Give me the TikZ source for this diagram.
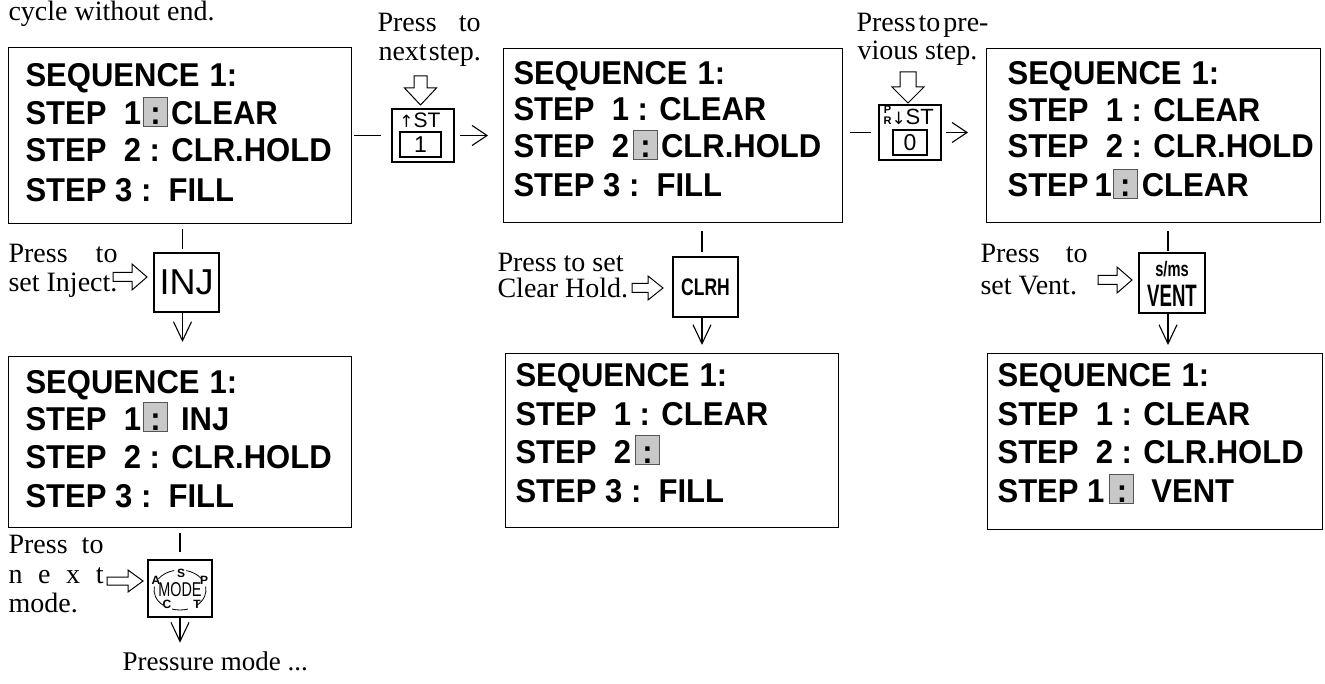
\documentclass[tikz,border=0pt]{standalone}
\usepackage{fontspec}
\usepackage{graphicx}
\setmainfont{Liberation Serif}
\newfontfamily\scrf{Liberation Sans}[FakeStretch=0.94]
\newfontfamily\keyf{Liberation Sans}
\newfontfamily\symf{DejaVu Sans}
\usetikzlibrary{arrows.meta}
\definecolor{hlfill}{RGB}{200,200,200}
\definecolor{hlborder}{RGB}{85,85,85}
\newcommand{\hlc}{{\setlength{\fboxsep}{0pt}\setlength{\fboxrule}{1pt}\fcolorbox{hlborder}{hlfill}{\makebox[23pt]{\rule[-1pt]{0pt}{28pt}:}}}}
\newcommand{\rarrow}[5]{\draw[hollow] (#3,#2-#4) -- (#1-15,#2-#4) -- (#1-15,#2-#5) -- (#1,#2) -- (#1-15,#2+#5) -- (#1-15,#2+#4) -- (#3,#2+#4) -- cycle;}
\newcommand{\darrow}[6]{\draw[hollow] (#1-#5,#3) -- (#1+#5,#3) -- (#1+#5,#4) -- (#1+#6,#4) -- (#1,#2) -- (#1-#6,#4) -- (#1-#5,#4) -- cycle;}
\begin{document}
\begin{tikzpicture}[x=1pt,y=-1pt,line width=1.1pt,
  scr/.style={anchor=base west, inner sep=0pt, font=\scrf\bfseries\fontsize{33}{38}\selectfont},
  lab/.style={anchor=base west, inner sep=0pt, font=\fontsize{28}{29}\selectfont},
  scrbox/.style={draw, inner sep=0pt, anchor=north west},
  key/.style={draw, inner sep=0pt},
  barb/.style={-{Straight Barb[length=15pt,width=20pt]}},
  vbarb/.style={-{Straight Barb[length=19pt,width=18pt]}},
  hollow/.style={draw, line width=1pt, fill=white},
  letter/.style={inner sep=0pt, font=\keyf\bfseries\fontsize{12}{12}\selectfont},
  thinarc/.style={line width=0.8pt}]
\useasboundingbox (0,0) rectangle (1325,684);

% ---------- screen boxes ----------
\node[scrbox, minimum width=343, minimum height=176] (b1) at (8,47) {};
\node[scrbox, minimum width=339, minimum height=174] (b2) at (503,48) {};
\node[scrbox, minimum width=334, minimum height=174] (b3) at (986,48) {};
\node[scrbox, minimum width=343, minimum height=171] (b4) at (8,356) {};
\node[scrbox, minimum width=333, minimum height=174] (b5) at (505,353) {};
\node[scrbox, minimum width=335, minimum height=176] (b6) at (987,353) {};

% box 1
\node[scr] (b1a) at (25,87) {SEQUENCE\hspace{10pt}1:};
\node[scr] (b1b) at (25,125) {STEP\ \ 1\hspace{2pt}\hlc\hspace{3pt}CLEAR};
\node[scr] (b1c) at (25,162) {STEP\ \ 2 : CLR.HOLD};
\node[scr] (b1d) at (25,202) {STEP 3 :\ \ FILL};
% box 2
\node[scr] (b2a) at (513,85) {SEQUENCE\hspace{10pt}1:};
\node[scr] (b2b) at (513,121) {STEP\ \ 1 : CLEAR};
\node[scr] (b2c) at (513,158) {STEP\ \ 2\hspace{4pt}\hlc\hspace{3pt}CLR.HOLD};
\node[scr] (b2d) at (513,197) {STEP 3 :\ \ FILL};
% box 3
\node[scr] (b3a) at (1007,85) {SEQUENCE\hspace{10pt}1:};
\node[scr] (b3b) at (1007,122) {STEP\ \ 1 : CLEAR};
\node[scr] (b3c) at (1007,158) {STEP\ \ 2 : CLR.HOLD};
\node[scr] (b3d) at (1007,197) {STEP\hspace{6pt}1\hspace{1pt}\hlc\hspace{4pt}CLEAR};
% box 4
\node[scr] (b4a) at (25,393) {SEQUENCE\hspace{10pt}1:};
\node[scr] (b4b) at (25,430) {STEP\ \ 1\hspace{2pt}\hlc\hspace{13pt}INJ};
\node[scr] (b4c) at (25,468) {STEP\ \ 2 : CLR.HOLD};
\node[scr] (b4d) at (25,507) {STEP 3 :\ \ FILL};
% box 5
\node[scr] (b5a) at (515,387) {SEQUENCE\hspace{10pt}1:};
\node[scr] (b5b) at (515,425) {STEP\ \ 1 : CLEAR};
\node[scr] (b5c) at (515,463) {STEP\ \ 2\hspace{4pt}\hlc};
\node[scr] (b5d) at (515,502) {STEP 3 :\ \ FILL};
% box 6
\node[scr] (b6a) at (997,387) {SEQUENCE\hspace{10pt}1:};
\node[scr] (b6b) at (997,425) {STEP\ \ 1 : CLEAR};
\node[scr] (b6c) at (997,463) {STEP\ \ 2 : CLR.HOLD};
\node[scr] (b6d) at (997,502) {STEP 1\hspace{5pt}\hlc\hspace{17pt}VENT};

% ---------- keys ----------
\node[key, minimum width=62, minimum height=53] (st) at (423,135.5) {};
\node[key, minimum width=41, minimum height=25, font=\keyf\fontsize{23}{23}\selectfont] (st1) at (420.5,144.5) {1};
\node[anchor=base, inner sep=0pt, font=\keyf\fontsize{21}{21}\selectfont] (stlab) at (420,127.5) {{\symf\fontsize{17}{17}\selectfont ↑}ST};

\node[key, minimum width=62, minimum height=55] (pr) at (910,132.5) {};
\node[key, minimum width=34, minimum height=25, font=\keyf\fontsize{23}{23}\selectfont] (pr0) at (910,142.5) {0};
\node[anchor=base west, inner sep=0pt, font=\keyf\fontsize{22}{22}\selectfont] (prlab) at (883,124.5) {\raisebox{0pt}[0pt][0pt]{\shortstack{\bfseries\fontsize{11}{9}\selectfont P\\\bfseries\fontsize{11}{9}\selectfont R}}{\symf\fontsize{17}{17}\selectfont ↓}ST};

\node[key, minimum width=65, minimum height=59, font=\keyf\fontsize{36}{36}\selectfont] (inj) at (186.5,282.5) {INJ};
\node[key, minimum width=65, minimum height=60, font=\keyf\bfseries\fontsize{24}{24}\selectfont] (clrh) at (705.5,287) {\scalebox{0.73}[1]{CLRH}};
\node[key, minimum width=66, minimum height=60] (vent) at (1172,283) {};
\node[anchor=base, inner sep=0pt, font=\keyf\bfseries\fontsize{21}{21}\selectfont] (venta) at (1172,277) {\scalebox{0.7}[1]{s/ms}};
\node[anchor=base, inner sep=0pt, font=\keyf\bfseries\fontsize{31}{31}\selectfont] (ventb) at (1172,307) {\scalebox{0.6}[1]{VENT}};

\node[key, minimum width=64, minimum height=57] (mode) at (180,588.5) {};
\node[anchor=base, inner sep=0pt, font=\keyf\fontsize{20}{20}\selectfont] (modet) at (180,596) {\scalebox{0.72}[1]{MODE}};
\node[letter] (ms) at (181,573) {S};
\node[letter] (ma) at (156,580) {A};
\node[letter] (mp) at (204,580) {P};
\node[letter] (mc) at (167,604) {C};
\node[letter] (mt) at (197,604) {T};
\draw[thinarc] (180,590) ++(214:26 and 20) arc[start angle=214, end angle=257, x radius=26, y radius=20];
\draw[thinarc] (180,590) ++(284:26 and 20) arc[start angle=284, end angle=326, x radius=26, y radius=20];
\draw[thinarc] (180,590) ++(130:26 and 20) arc[start angle=130, end angle=190, x radius=26, y radius=20];
\draw[thinarc] (180,590) ++(350:26 and 20) arc[start angle=350, end angle=410, x radius=26, y radius=20];
\draw[thinarc] (180,590) ++(72:26 and 20) arc[start angle=72, end angle=108, x radius=26, y radius=20];

% ---------- labels ----------
\node[lab] (lcyc) at (8,21) {cycle without end.};
\node[lab] (lst1) at (377,32) {\makebox[103pt][s]{Press to}};
\node[lab] (lst2) at (378,61) {next\hspace{2pt}step.};
\node[lab] (lpr1) at (856,32) {Press\hspace{3pt}to\hspace{3pt}pre-};
\node[lab] (lpr2) at (857,60) {vious step.};
\node[lab] (linj1) at (8,263) {\makebox[109pt][s]{Press to}};
\node[lab] (linj2) at (8,292) {set Inject.};
\node[lab] (lclr1) at (497,272) {Press to set};
\node[lab] (lclr2) at (497,298) {Clear Hold.};
\node[lab] (lvent1) at (980,263) {\makebox[107pt][s]{Press to}};
\node[lab] (lvent2) at (980,295) {set Vent.};
\node[lab] (lmode1) at (8,553) {\makebox[95pt][s]{Press to}};
\node[lab] (lmode2) at (8,583) {\makebox[95pt][s]{n e x t}};
\node[lab] (lmode3) at (8,612) {mode.};
\node[lab, font=\fontsize{27}{29}\selectfont] (lpress) at (122,670) {Pressure mode ...};

% ---------- hollow pointer arrows ----------
\darrow{420.5}{105}{76}{88}{6.5}{16}
\darrow{908}{103}{72}{87}{8}{16}
\rarrow{147}{277}{113}{4.5}{13}
\rarrow{663}{288}{632}{4.5}{12}
\rarrow{1132}{280}{1098}{4.5}{13}
\rarrow{143}{581}{107}{4}{11}

% ---------- connectors ----------
\draw[shorten <=2pt, shorten >=10pt] (st.west -| b1.east) -- (st.west);
\draw[barb, shorten <=5pt, shorten >=15pt] (st.east) -- (st.east -| b2.west);
\draw[shorten <=7pt, shorten >=7pt] (pr.west -| b2.east) -- (pr.west);
\draw[barb, shorten <=4pt, shorten >=18pt] (pr.east) -- (pr.east -| b3.west);

\draw[shorten <=5pt, shorten >=3pt] ([xshift=-4pt]inj.north |- b1.south) -- ([xshift=-4pt]inj.north);
\draw[vbarb, shorten >=14pt] ([xshift=-4pt]inj.south) -- ([xshift=-4pt]inj.south |- b4.north);
\draw[shorten <=5pt, shorten >=7pt] (mode.north |- b4.south) -- (mode.north);
\draw[vbarb, shorten >=8pt] (mode.south) -- (mode.south |- lpress.north);

\draw[shorten <=8pt, shorten >=4pt] ([xshift=-3.5pt]clrh.north |- b2.south) -- ([xshift=-3.5pt]clrh.north);
\draw[vbarb, shorten >=8pt] ([xshift=-3.5pt]clrh.south) -- ([xshift=-3.5pt]clrh.south |- b5.north);

\draw[shorten <=8pt, shorten >=1pt] ([xshift=-4pt]vent.north |- b3.south) -- ([xshift=-4pt]vent.north);
\draw[vbarb, shorten >=8pt] ([xshift=-4pt]vent.south) -- ([xshift=-4pt]vent.south |- b6.north);
\end{tikzpicture}
\end{document}
